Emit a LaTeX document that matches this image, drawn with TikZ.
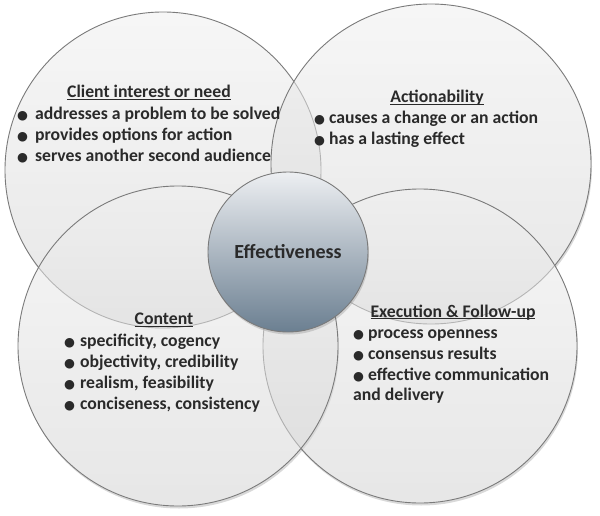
\documentclass[tikz,border=0pt]{standalone}
\usepackage{fontspec}
\setmainfont{Carlito}
\newfontfamily\dejavu{DejaVu Sans}
\usetikzlibrary{shadows}
\definecolor{txt}{HTML}{2A2A2A}
\definecolor{rim}{HTML}{7A7A7A}
\definecolor{efftop}{HTML}{EDEFF2}
\definecolor{effbot}{HTML}{6B7F91}
\newcommand{\blt}{{\dejavu\fontsize{12.5}{12}\selectfont ●}}
\newcommand{\ultitle}[1]{\setbox0\hbox{#1}\rlap{\rule[-2.2pt]{\wd0}{0.9pt}}\box0}

\begin{document}
\begin{tikzpicture}[x=1pt,y=-1pt,every node/.style={font=\bfseries\fontsize{17.7}{21}\selectfont,text=txt,inner sep=0pt},
  lobe/.style={circle,draw=rim,line width=0.9pt,minimum size=#1,top color=gray!12,bottom color=gray!34,fill opacity=0.55,draw opacity=1},
  core/.style={circle,draw=rim,line width=0.9pt,minimum size=160pt,top color=efftop,bottom color=effbot,font=\bfseries\fontsize{20}{24}\selectfont,
    drop shadow={shadow xshift=1pt,shadow yshift=-2.5pt,opacity=0.3}},
  item/.style={anchor=base west},
  title/.style={anchor=base}]
\useasboundingbox (0,0) rectangle (600,516);
% shadows and white ground under the four lobes
\foreach \x/\y/\r in {163/170/158,431/164/160,420/346/157,178/346/160}
  \fill[white,drop shadow={shadow xshift=1pt,shadow yshift=-2.5pt,opacity=0.3}] (\x,\y) circle[radius=\r pt];
% lobes
\node[lobe=316pt] (client) at (163,170) {};
\node[lobe=320pt] (action) at (431,164) {};
\node[lobe=314pt] (exec) at (420,346) {};
\node[lobe=320pt] (content) at (178,346) {};
\node[core] (eff) at (288,252) {Effectiveness};
% texts
\node[title] (clientT) at (149,97.5) {\ultitle{Client interest or need}};
\foreach \t [count=\i] in {addresses a problem to be solved,provides options for action,serves another second audience}
  \node[item] (client-\i) at (17,{98.5+21*\i}) {\blt\hspace{7pt}\t};
\node[title] (actionT) at (437,103) {\ultitle{Actionability}};
\foreach \t [count=\i] in {causes a change or an action,has a lasting effect}
  \node[item] (action-\i) at (314,{103+21*\i}) {\blt\hspace{4pt}\t};
\node[title] (contentT) at (164,324.5) {\ultitle{Content}};
\foreach \t [count=\i] in {{specificity, cogency},{objectivity, credibility},{realism, feasibility},{conciseness, consistency}}
  \node[item] (content-\i) at (64,{325.5+21*\i}) {\blt\hspace{5pt}\t};
\node[title] (execT) at (453,317) {\ultitle{Execution \& Follow-up}};
\foreach \t [count=\i] in {process openness,consensus results,effective communication}
  \node[item] (exec-\i) at (353,{317+21*\i}) {\blt\hspace{4pt}\t};
\node[item] (exec-4) at (353,400.3) {and delivery};
\end{tikzpicture}
\end{document}
